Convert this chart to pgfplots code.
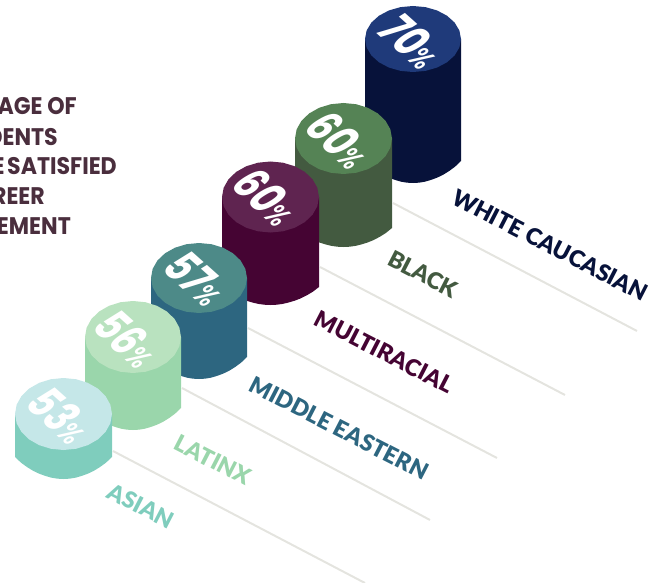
\documentclass[border=0pt]{standalone}
\usepackage{fontspec}
\usepackage{pgfplots}
\usepackage{pgfplotstable}
\pgfplotsset{compat=1.18}
\setmainfont{Poppins}
\newfontfamily\labelfont{Lato Black}
\newfontfamily\titlefont[FakeStretch=0.92]{Poppins Bold}
\newfontfamily\numfont{Poppins Bold}
\newfontfamily\pctfont{Poppins SemiBold}

% unit circle outline for the cylinder tops
\pgfplotstableread{
ux uy
1 0
0.966 0.259
0.866 0.5
0.707 0.707
0.5 0.866
0.259 0.966
0 1
-0.259 0.966
-0.5 0.866
-0.707 0.707
-0.866 0.5
-0.966 0.259
-1 0
-0.966 -0.259
-0.866 -0.5
-0.707 -0.707
-0.5 -0.866
-0.259 -0.966
0 -1
0.259 -0.966
0.5 -0.866
0.707 -0.707
0.866 -0.5
0.966 -0.259
}\topoutline

% side outline: top flags the upper corners, w is the share of the bottom sag
\pgfplotstableread{
ux top w
-1 1 0
-1 0 0
-0.875 0 0.26
-0.75 0 0.46
-0.625 0 0.63
-0.5 0 0.76
-0.375 0 0.86
-0.25 0 0.94
-0.125 0 0.985
0 0 1
0.125 0 0.985
0.25 0 0.94
0.375 0 0.86
0.5 0 0.76
0.625 0 0.63
0.75 0 0.46
0.875 0 0.26
1 0 0
1 1 0
}\sideoutline

\definecolor{titlecol}{HTML}{4A2E3D}
\definecolor{rulecol}{HTML}{E4E4DF}
\definecolor{whiteS}{HTML}{07123A}\definecolor{whiteT}{HTML}{1F3A7A}
\definecolor{blackS}{HTML}{435A40}\definecolor{blackT}{HTML}{558355}
\definecolor{multiS}{HTML}{450433}\definecolor{multiT}{HTML}{5F2450}
\definecolor{middleS}{HTML}{2D6680}\definecolor{middleT}{HTML}{4D8A88}
\definecolor{latinS}{HTML}{9AD6AB}\definecolor{latinT}{HTML}{B9E2BF}
\definecolor{asianS}{HTML}{7FCDBD}\definecolor{asianT}{HTML}{C5E7E8}

% #1 cx, #2 cy, #3 half width, #4 half depth, #5 edge foot, #6 lowest foot, #7 side, #8 top
\newcommand{\cylinder}[8]{%
  \addplot[fill=#7,draw=none,no marks] table[
    x expr={#1+#3*\thisrow{ux}},
    y expr={\thisrow{top}*#2+(1-\thisrow{top})*(#5+(#6-#5)*\thisrow{w})}]
    {\sideoutline}--cycle;
  \addplot[fill=#8,draw=none,no marks] table[
    x expr={#1+#3*\thisrow{ux}},
    y expr={#2+#4*\thisrow{uy}}]
    {\topoutline}--cycle;
}
% value lettering laid flat on a cylinder top
\newcommand{\valuelabel}[3]{%
  \node[white,cm={0.56,-0.50,0.90,0.56,(axis cs:#1,#2)},transform shape,inner sep=0pt] at (0,0)
    {\numfont\fontsize{46}{46}\selectfont #3\pctfont\fontsize{30}{30}\selectfont\%};
}
\newcommand{\grouplabel}[4]{%
  \node[#4,rotate=-27.2,inner sep=0pt] at (axis cs:#1,#2)
    {\labelfont\fontsize{23}{24}\selectfont #3};
}
\newcommand{\titleline}[3]{%
  \node[titlecol,anchor=east,inner sep=0pt] at (axis cs:#1,#2)
    {\titlefont\fontsize{24}{24}\selectfont #3};
}

\begin{document}
\begin{tikzpicture}[x=1pt,y=1pt]
\clip (0,0) rectangle (656,583);
\begin{axis}[
  at={(0,0)},anchor=south west,
  scale only axis,width=656pt,height=583pt,
  xmin=0,xmax=656,ymin=0,ymax=583,y dir=reverse,
  hide axis,clip=false]

% floor rules running away from the cylinders
\addplot[rulecol,line width=2pt,no marks] coordinates {(393,203) (637,331)};
\addplot[rulecol,line width=2pt,no marks] coordinates {(320,267) (565,395)};
\addplot[rulecol,line width=2pt,no marks] coordinates {(248,328) (497,458)};
\addplot[rulecol,line width=2pt,no marks] coordinates {(182,388) (430,520)};
\addplot[rulecol,line width=2pt,no marks] coordinates {(113,451) (365,583)};

\cylinder{413}{39}{48}{33}{161}{183}{whiteS}{whiteT}
\cylinder{343.5}{138.5}{48.5}{35.5}{228}{247}{blackS}{blackT}
\cylinder{270.5}{197}{48.5}{35.5}{287}{305}{multiS}{multiT}
\cylinder{199}{278}{48}{35}{357}{379}{middleS}{middleT}
\cylinder{133}{337}{48}{36}{408}{430}{latinS}{latinT}
\cylinder{63.5}{414}{48.5}{36}{457}{479}{asianS}{asianT}

\valuelabel{412}{42}{70}
\valuelabel{340}{140}{60}
\valuelabel{267}{197}{60}
\valuelabel{197}{279}{57}
\valuelabel{128}{339}{56}
\valuelabel{61}{416}{53}

\grouplabel{550}{245}{WHITE CAUCASIAN}{whiteS}
\grouplabel{423}{274}{BLACK}{blackS}
\grouplabel{384}{352}{MULTIRACIAL}{multiS}
\grouplabel{339}{428}{MIDDLE EASTERN}{middleS}
\grouplabel{213}{460}{LATINX}{latinS}
\grouplabel{141}{506}{ASIAN}{asianS}

\titleline{77}{106}{AGE OF}
\titleline{58}{137}{DENTS}
\titleline{117}{166}{E\hspace{-2pt} SATISFIED}
\titleline{45}{196}{REER}
\titleline{71}{226}{EMENT}
\end{axis}
\end{tikzpicture}
\end{document}
